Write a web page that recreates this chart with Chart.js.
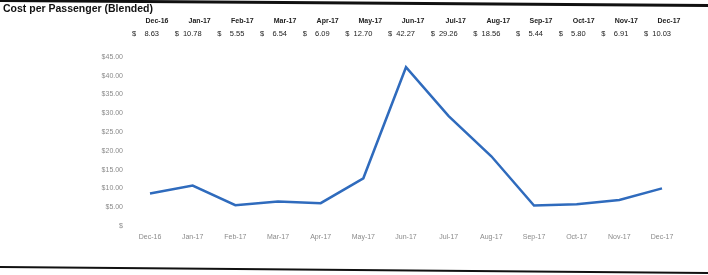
<!DOCTYPE html>
<html>
<head>
<meta charset="utf-8">
<script src="https://cdn.jsdelivr.net/npm/chart.js@4"></script>
<style>
  body { margin: 0; background: #fff; }
  #wrap { width: 708px; height: 275px; position: relative; }
</style>
</head>
<body>
<div id="wrap"><canvas id="c"></canvas></div>
<script>
// data
var months = ['Dec-16', 'Jan-17', 'Feb-17', 'Mar-17', 'Apr-17', 'May-17', 'Jun-17',
              'Jul-17', 'Aug-17', 'Sep-17', 'Oct-17', 'Nov-17', 'Dec-17'];
var costPerPassenger = [8.63, 10.78, 5.55, 6.54, 6.09, 12.70, 42.27, 29.26, 18.56, 5.44, 5.80, 6.91, 10.03];
var yTickLabels = ['$', '$5.00', '$10.00', '$15.00', '$20.00', '$25.00', '$30.00', '$35.00', '$40.00', '$45.00'];
var chartTitle = 'Cost per Passenger (Blended)';

// draws the title, the little value table above the plot and the frame lines
var tablePlugin = {
  id: 'tablePlugin',
  afterDraw: function (chart) {
    var ctx = chart.ctx;
    var x = chart.scales.x;
    ctx.save();

    // scanned page edges, a bit slanted
    ctx.strokeStyle = '#111';
    ctx.lineWidth = 3;
    ctx.beginPath();
    ctx.moveTo(0, 0.5);
    ctx.lineTo(708, 5.5);
    ctx.stroke();
    ctx.lineWidth = 2;
    ctx.beginPath();
    ctx.moveTo(0, 267);
    ctx.lineTo(708, 273);
    ctx.stroke();

    ctx.font = 'bold 10.5px "Liberation Sans", Arial, sans-serif';
    ctx.textBaseline = 'middle';
    ctx.textAlign = 'left';
    ctx.fillStyle = '#111';
    ctx.fillText(chartTitle, 3, 9);

    months.forEach(function (m, i) {
      var cx = x.getPixelForValue(i) + 7;
      ctx.font = 'bold 7px "Liberation Sans", Arial, sans-serif';
      ctx.textAlign = 'center';
      ctx.fillStyle = '#222';
      ctx.fillText(m, cx, 21);
      ctx.font = '7.5px "Liberation Sans", Arial, sans-serif';
      ctx.textAlign = 'left';
      ctx.fillText('$', cx - 25, 34);
      ctx.textAlign = 'right';
      ctx.fillText(costPerPassenger[i].toFixed(2), cx + 2, 34);
    });
    ctx.restore();
  }
};

var ctx = document.getElementById('c').getContext('2d');
var chart = new Chart(ctx, {
  type: 'line',
  data: {
    labels: months,
    datasets: [
      {
        label: chartTitle,
        data: costPerPassenger,
        borderColor: '#2f6bbd',
        borderWidth: 2.5,
        tension: 0,
        pointRadius: 0,
        fill: false,
      },
    ],
  },
  options: {
    responsive: true,
    maintainAspectRatio: false,
    animation: false,
    layout: { padding: { top: 57, right: 46, bottom: 20, left: 0 } },
    plugins: {
      legend: { display: false },
      tooltip: { enabled: false },
    },
    scales: {
      x: {
        offset: false,
        grid: { display: false, drawTicks: false },
        border: { display: false },
        ticks: {
          padding: 7,
          maxRotation: 0,
          autoSkip: false,
          color: '#8a8a8a',
          font: { family: '"Liberation Sans", Arial, sans-serif', size: 7 },
        },
        afterFit: function (scale) { scale.height = 29; },
      },
      y: {
        min: 0,
        max: 45,
        grid: { display: false, drawTicks: false },
        border: { display: false },
        ticks: {
          stepSize: 5,
          padding: 27,
          color: '#8a8a8a',
          font: { family: '"Liberation Sans", Arial, sans-serif', size: 7 },
          callback: function (value, index) {
            return yTickLabels[index];
          },
        },
        afterFit: function (scale) { scale.width = 150; },
      },
    },
  },
  plugins: [tablePlugin],
});
</script>
</body>
</html>
